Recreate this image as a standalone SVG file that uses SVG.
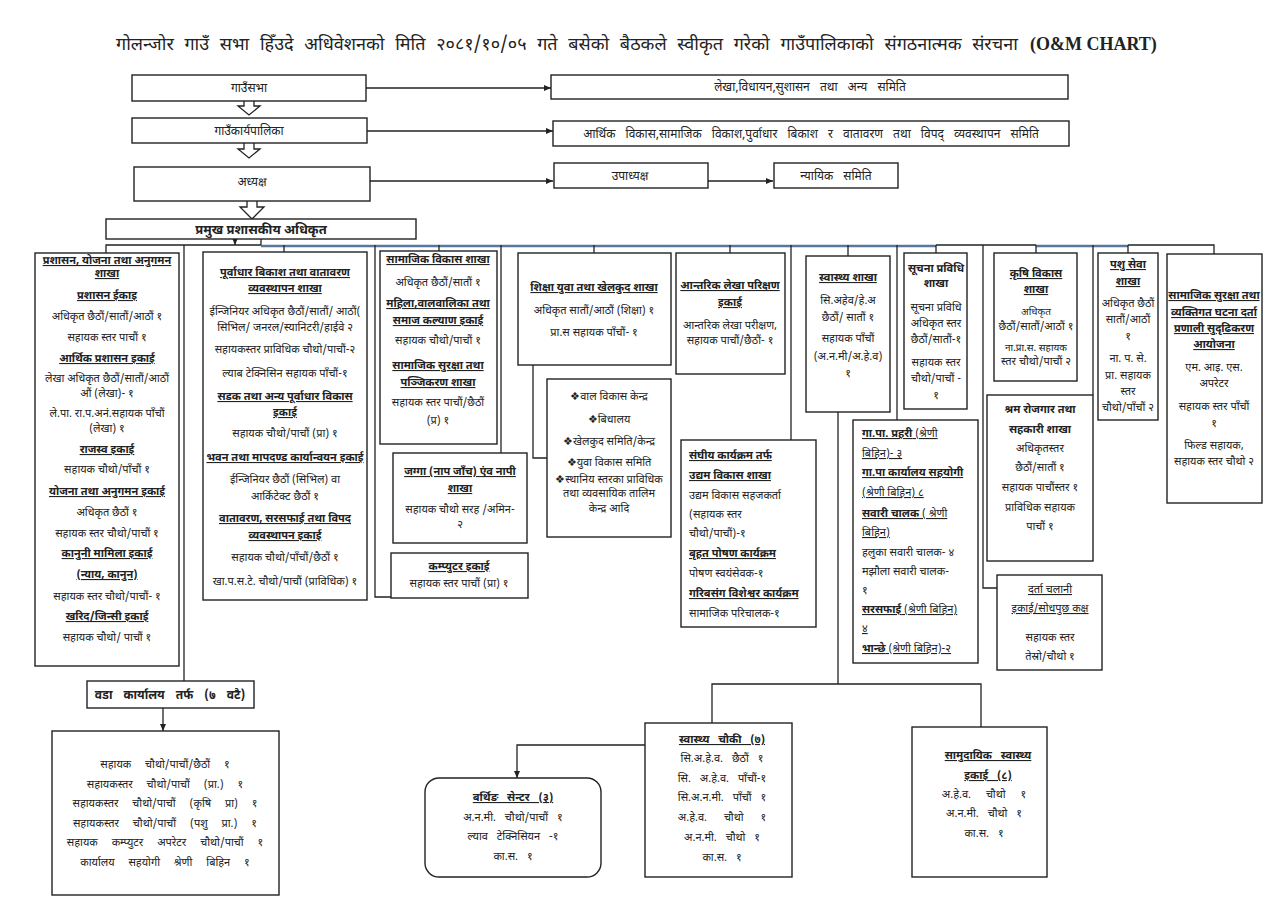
<svg xmlns="http://www.w3.org/2000/svg" width="1286" height="910" viewBox="0 0 1286 910">
<style>
text{font-family:"Noto Sans Devanagari","Noto Serif Devanagari","Noto Sans","Lohit Devanagari",sans-serif;font-size:11px;fill:#222;text-anchor:middle}
.box{fill:#fff;stroke:#222;stroke-width:1.4}
.ln{fill:none;stroke:#222;stroke-width:1.3}
.bl{fill:none;stroke:#56789e;stroke-width:2.5}
.b{font-weight:bold}
.u{text-decoration:underline}
.l{text-anchor:start}
.title{font-size:18px;text-anchor:start}
.top{font-size:12px;word-spacing:7px}
.ws{word-spacing:11px}
.ws6{word-spacing:6px}
</style>
<defs>
<marker id="ah" markerWidth="8" markerHeight="8" refX="7" refY="4" orient="auto" markerUnits="userSpaceOnUse">
<path d="M0,1 L7,4 L0,7 Z" fill="#222"/>
</marker>
</defs>
<rect width="1286" height="910" fill="#fff"/>
<g id="title">
<text class="title" x="116" y="50" style="word-spacing:6px">गोलन्जोर गाउँ सभा हिँउदे अधिवेशनको मिति २०८१/१०/०५ गते बसेको बैठकले स्वीकृत गरेको गाउँपालिकाको संगठनात्मक संरचना</text>
<text x="1030" y="50" style="font-family:'Liberation Serif',serif;font-size:18px;font-weight:bold;text-anchor:start">(O&amp;M CHART)</text>
</g>

<g id="connectors">
<line class="ln" x1="366" y1="88" x2="551" y2="88" marker-end="url(#ah)"/>
<line class="ln" x1="367" y1="131" x2="553" y2="131" marker-end="url(#ah)"/>
<line class="ln" x1="370" y1="181" x2="553" y2="181" marker-end="url(#ah)"/>
<line class="ln" x1="708" y1="181" x2="773" y2="181" marker-end="url(#ah)"/>
<path class="ln" d="M244,101 V106 H238 L249,115 L260,106 H254 V101" fill="#fff"/>
<path class="ln" d="M244,143 V149 H238 L249,158 L260,149 H254 V143" fill="#fff"/>
<path class="ln" d="M247,201 V207 H240 L252,219 L264,207 H257 V201" fill="#fff"/>
<line class="ln" x1="235" y1="239" x2="235" y2="245" marker-end="url(#ah)"/>
<polyline class="ln" points="106,253 106,245 261,245"/>
<line class="ln" x1="261" y1="239" x2="261" y2="245"/>
<line class="bl" x1="261" y1="246" x2="936" y2="246"/>
<line class="ln" x1="936" y1="245" x2="1036" y2="245"/>
<line class="bl" x1="1036" y1="246" x2="1128" y2="246"/>
<polyline class="ln" points="1128,245 1214,245 1214,254"/>
<line class="ln" x1="184" y1="245" x2="184" y2="681"/>
<line class="ln" x1="284" y1="245" x2="284" y2="252"/>
<polyline class="ln" points="375,245 375,597 391,597"/>
<line class="ln" x1="439" y1="245" x2="439" y2="251"/>
<line class="ln" x1="501" y1="245" x2="501" y2="453"/>
<line class="ln" x1="594" y1="245" x2="594" y2="253"/>
<polyline class="ln" points="533,365 533,458 547,458"/>
<line class="ln" x1="730" y1="245" x2="730" y2="253"/>
<line class="ln" x1="791" y1="245" x2="791" y2="440"/>
<line class="ln" x1="848" y1="245" x2="848" y2="256"/>
<line class="ln" x1="897" y1="245" x2="897" y2="420"/>
<line class="ln" x1="936" y1="245" x2="936" y2="253"/>
<polyline class="ln" points="983,245 983,588 997,588"/>
<line class="ln" x1="1036" y1="245" x2="1036" y2="253"/>
<line class="ln" x1="1093" y1="245" x2="1093" y2="395"/>
<line class="ln" x1="1128" y1="245" x2="1128" y2="253"/>
<line class="ln" x1="838" y1="412" x2="838" y2="684"/>
<polyline class="ln" points="712,723 712,684 981,684 981,727"/>
<line class="ln" x1="163" y1="708" x2="163" y2="731" marker-end="url(#ah)"/>
<polyline class="ln" points="645,745 517,745 517,778" marker-end="url(#ah)"/>
</g>

<g id="gaunsabha"><rect class="box" x="132" y="75" width="234" height="26"/><text class="top" x="249" y="92">गाउँसभा</text></g>
<g id="lekha-samiti"><rect class="box" x="551" y="75" width="517" height="24"/><text class="top" x="810" y="91">लेखा,विधायन,सुशासन तथा अन्य समिति</text></g>
<g id="karyapalika"><rect class="box" x="132" y="118" width="235" height="25"/><text class="top" x="249" y="135">गाउँकार्यपालिका</text></g>
<g id="bikas-samiti"><rect class="box" x="553" y="121" width="516" height="25"/><text class="top" x="811" y="138">आर्थिक विकास,सामाजिक विकाश,पुर्वाधार बिकाश र वातावरण तथा विपद् व्यवस्थापन समिति</text></g>
<g id="adhyaksha"><rect class="box" x="134" y="167" width="236" height="34"/><text class="top" x="252" y="186">अध्यक्ष</text></g>
<g id="upadhyaksha"><rect class="box" x="554" y="163" width="154" height="25"/><text class="top" x="630" y="180">उपाध्यक्ष</text></g>
<g id="nyayik"><rect class="box" x="774" y="163" width="124" height="25"/><text class="top" x="836" y="180">न्यायिक समिति</text></g>
<g id="cao"><rect class="box" x="106" y="219" width="310" height="20"/><text class="b" x="261" y="234" style="font-size:13px">प्रमुख प्रशासकीय  अधिकृत</text></g>

<g id="prashasan">
<rect class="box" x="35" y="253" width="144" height="413"/>
<text class="b u" x="107" y="264">प्रशासन, योजना तथा अनुगमन</text>
<text class="b u" x="107" y="277">शाखा</text>
<text class="b u" x="107" y="299">प्रशासन ईकाइ</text>
<text x="107" y="320">अधिकृत छैठौं/सातौं/आठौं १</text>
<text x="107" y="341">सहायक स्तर पाचौं १</text>
<text class="b u" x="107" y="362">आर्थिक प्रशासन इकाई</text>
<text x="107" y="382">लेखा अधिकृत छैठौं/सातौं/आठौं</text>
<text x="107" y="397">औं (लेखा)- १</text>
<text x="107" y="417">ले.पा. रा.प.अनं.सहायक पाँचौं</text>
<text x="107" y="432">(लेखा)  १</text>
<text class="b u" x="107" y="453">राजस्व इकाई</text>
<text x="107" y="473">सहायक चौथो/पाँचौं १</text>
<text class="b u" x="107" y="495">योजना तथा अनुगमन इकाई</text>
<text x="107" y="516">अधिकृत छैठौं १</text>
<text x="107" y="537">सहायक स्तर चौथो/पाचौं १</text>
<text class="b u" x="107" y="557">कानुनी मामिला इकाई</text>
<text class="b u" x="107" y="578">(न्याय, कानुन)</text>
<text x="107" y="600">सहायक स्तर चौथो/पाचौं- १</text>
<text class="b u" x="107" y="620">खरिद/जिन्सी इकाई</text>
<text x="107" y="641">सहायक चौथो/ पाचौं १</text>
</g>

<g id="purbadhar">
<rect class="box" x="203" y="252" width="164" height="348"/>
<text class="b u" x="285" y="276">पूर्वाधार बिकाश तथा वातावरण</text>
<text class="b u" x="285" y="292">व्यवस्थापन शाखा</text>
<text x="285" y="315">ईन्जिनियर अधिकृत छैठौं/सातौं/ आठौं(</text>
<text x="285" y="331">सिभिल/ जनरल/स्यानिटरी/हाईवे २</text>
<text x="285" y="353">सहायकस्तर प्राविधिक चौथो/पाचौं-२</text>
<text x="285" y="377">ल्याब टेक्निसिन सहायक पाँचौं-१</text>
<text class="b u" x="285" y="400">सडक तथा अन्य पूर्वाधार विकास</text>
<text class="b u" x="285" y="416">इकाई</text>
<text x="285" y="437">सहायक चौथो/पाचौं (प्रा) १</text>
<text class="b u" x="285" y="461">भवन तथा मापदण्ड कार्यान्वयन इकाई</text>
<text x="285" y="483">ईन्जिनियर छैठौं (सिभिल) वा</text>
<text x="285" y="500">आर्किटेक्ट छैठौं १</text>
<text class="b u" x="285" y="522">वातावरण, सरसफाई तथा विपद</text>
<text class="b u" x="285" y="539">व्यवस्थापन इकाई</text>
<text x="285" y="561">सहायक चौथो/पाँचौं/छैठौं १</text>
<text x="285" y="585">खा.प.स.टे. चौथो/पाचौं (प्राविधिक) १</text>
</g>

<g id="samajik">
<rect class="box" x="380" y="251" width="117" height="193"/>
<text class="b u" x="438" y="263">सामाजिक विकास शाखा</text>
<text x="438" y="286">अधिकृत छैठौं/सातौं १</text>
<text class="b u" x="438" y="307">महिला,वालवालिका तथा</text>
<text class="b u" x="438" y="324">समाज कल्याण इकाई</text>
<text x="438" y="344">सहायक चौथो/पाचौं १</text>
<text class="b u" x="438" y="369">सामाजिक सुरक्षा तथा</text>
<text class="b u" x="438" y="386">पञ्जिकरण शाखा</text>
<text x="438" y="406">सहायक स्तर पाचौं/छैठौं</text>
<text x="438" y="424">(प्र) १</text>
</g>

<g id="jagga">
<rect class="box" x="393" y="453" width="134" height="90"/>
<text class="b u" x="460" y="475">जग्गा (नाप जाँच) एंव नापी</text>
<text class="b u" x="460" y="492">शाखा</text>
<text x="460" y="513">सहायक चौथो सरह /अमिन-</text>
<text x="460" y="528">२</text>
</g>

<g id="computer">
<rect class="box" x="391" y="553" width="137" height="45"/>
<text class="b u" x="459" y="570">कम्प्युटर इकाई</text>
<text x="459" y="587">सहायक स्तर पाचौं (प्रा) १</text>
</g>

<g id="shiksha">
<rect class="box" x="518" y="253" width="153" height="112"/>
<text class="b u" x="594" y="291">शिक्षा युवा तथा खेलकुद शाखा</text>
<text x="594" y="314">अधिकृत सातौं/आठौं (शिक्षा) १</text>
<text x="594" y="336">प्रा.स सहायक पाँचौं- १</text>
</g>

<g id="shiksha-list">
<rect class="box" x="547" y="379" width="124" height="158"/>
<text x="609" y="400">❖वाल विकास केन्द्र</text>
<text x="609" y="423">❖बिधालय</text>
<text x="609" y="445">❖खेलकुद समिति/केन्द्र</text>
<text x="609" y="466">❖युवा विकास समिति</text>
<text x="609" y="483">❖स्थानिय स्तरका प्राविधिक</text>
<text x="609" y="497">तथा व्यवसायिक तालिम</text>
<text x="609" y="512">केन्द्र आदि</text>
</g>

<g id="antarik">
<rect class="box" x="676" y="253" width="109" height="121"/>
<text class="b u" x="730" y="289">आन्तरिक लेखा परिक्षण</text>
<text class="b u" x="730" y="306">इकाई</text>
<text x="730" y="329">आन्तरिक लेखा परीक्षण,</text>
<text x="730" y="344">सहायक पाचौं/छैठौं- १</text>
</g>

<g id="sanghiya">
<rect class="box" x="681" y="440" width="135" height="187"/>
<text class="b u l" x="689" y="459">संघीय कार्यक्रम तर्फ</text>
<text class="b u l" x="689" y="479">उद्यम विकास शाखा</text>
<text class="l" x="689" y="499">उद्यम विकास सहजकर्ता</text>
<text class="l" x="689" y="518">(सहायक स्तर</text>
<text class="l" x="689" y="537">चौथो/पाचौं)-१</text>
<text class="b u l" x="689" y="557">बृहत पोषण कार्यक्रम</text>
<text class="l" x="689" y="577">पोषण स्वयंसेवक-१</text>
<text class="b u l" x="689" y="597">गरिबसंग विशेश्वर कार्यक्रम</text>
<text class="l" x="689" y="617">सामाजिक परिचालक-१</text>
</g>

<g id="swasthya">
<rect class="box" x="806" y="256" width="84" height="156"/>
<text class="b u" x="848" y="281">स्वास्थ्य शाखा</text>
<text x="848" y="304">सि.अहेव/हे.अ</text>
<text x="848" y="321">छैठौं/ सातौं १</text>
<text x="848" y="342">सहायक पाँचौं</text>
<text x="848" y="360">(अ.न.मी/अ.हे.व)</text>
<text x="848" y="377">१</text>
</g>

<g id="suchana">
<rect class="box" x="904" y="253" width="63" height="156"/>
<text class="b" x="936" y="272">सूचना प्रविधि</text>
<text class="b" x="936" y="287">शाखा</text>
<text x="936" y="311">सूचना प्रविधि</text>
<text x="936" y="327">अधिकृत स्तर</text>
<text x="936" y="343">छैठौं/सातौं-१</text>
<text x="936" y="366">सहायक स्तर</text>
<text x="936" y="382">चौथो/पाचौं -</text>
<text x="936" y="399">१</text>
</g>

<g id="gapa">
<rect class="box" x="853" y="420" width="125" height="243"/>
<text class="u l" x="862" y="437"><tspan class="b">गा.पा. प्रहरी</tspan> (श्रेणी</text>
<text class="u l" x="862" y="457">बिहिन)- ३</text>
<text class="b u l" x="862" y="476">गा.पा कार्यालय सहयोगी</text>
<text class="u l" x="862" y="496">(श्रेणी बिहिन) ८</text>
<text class="u l" x="862" y="517"><tspan class="b">सवारी चालक</tspan> ( श्रेणी</text>
<text class="u l" x="862" y="536">बिहिन)</text>
<text class="l" x="862" y="556">हलुका सवारी चालक- ४</text>
<text class="l" x="862" y="575">मझौला सवारी चालक-</text>
<text class="l" x="862" y="594">१</text>
<text class="u l" x="862" y="613"><tspan class="b">सरसफाई</tspan> (श्रेणी बिहिन)</text>
<text class="u l" x="862" y="632">४</text>
<text class="u l" x="862" y="652"><tspan class="b">भान्छे</tspan> (श्रेणी बिहिन)-२</text>
</g>

<g id="krishi">
<rect class="box" x="994" y="253" width="83" height="128"/>
<text class="b u" x="1036" y="277">कृषि  विकास</text>
<text class="b u" x="1036" y="293">शाखा</text>
<text x="1036" y="315" style="font-size:10px">अधिकृत</text>
<text x="1036" y="330">छैठौं/सातौं/आठौं १</text>
<text x="1036" y="351" style="font-size:10px">ना.प्रा.स. सहायक</text>
<text x="1036" y="365">स्तर चौथो/पाचौं २</text>
</g>

<g id="shram">
<rect class="box" x="987" y="395" width="106" height="166"/>
<text class="b" x="1040" y="413">श्रम रोजगार तथा</text>
<text class="b" x="1040" y="433">सहकारी शाखा</text>
<text x="1040" y="452">अधिकृतस्तर</text>
<text x="1040" y="471">छैठौं/सातौं १</text>
<text x="1040" y="491">सहायक पाचौंस्तर १</text>
<text x="1040" y="511">प्राविधिक सहायक</text>
<text x="1040" y="530">पाचौं १</text>
</g>

<g id="darta">
<rect class="box" x="997" y="575" width="105" height="95"/>
<text class="u" x="1050" y="593">दर्ता चलानी</text>
<text class="u" x="1050" y="612">इकाई/सोधपुछ कक्ष</text>
<text x="1050" y="641">सहायक स्तर</text>
<text x="1050" y="660">तेस्रो/चौथो १</text>
</g>

<g id="pashu">
<rect class="box" x="1098" y="253" width="60" height="167"/>
<text class="b u" x="1128" y="268">पशु सेवा</text>
<text class="b u" x="1128" y="285">शाखा</text>
<text x="1128" y="307">अधिकृत छैठौं</text>
<text x="1128" y="323">सातौं/आठौं</text>
<text x="1128" y="340">१</text>
<text x="1128" y="362">ना. प. से.</text>
<text x="1128" y="379">प्रा. सहायक</text>
<text x="1128" y="395">स्तर</text>
<text x="1128" y="411">चौथो/पाँचौं २</text>
</g>

<g id="samajik-suraksha">
<rect class="box" x="1167" y="254" width="95" height="249"/>
<text class="b u" x="1214" y="299">सामाजिक सुरक्षा तथा</text>
<text class="b u" x="1214" y="316">व्यक्तिगत घटना दर्ता</text>
<text class="b u" x="1214" y="332">प्रणाली सुदृढिकरण</text>
<text class="b u" x="1214" y="348">आयोजना</text>
<text x="1214" y="371">एम. आइ. एस.</text>
<text x="1214" y="387">अपरेटर</text>
<text x="1214" y="410">सहायक स्तर पाँचौं</text>
<text x="1214" y="427">१</text>
<text x="1214" y="449">फिल्ड सहायक,</text>
<text x="1214" y="465">सहायक स्तर चौथो २</text>
</g>

<g id="vada">
<rect class="box" x="87" y="681" width="167" height="27"/>
<text class="b" x="170" y="699" style="word-spacing:8px;font-size:12px">वडा कार्यालय तर्फ (७ वटै)</text>
</g>

<g id="vada-staff">
<rect class="box" x="52" y="731" width="227" height="164"/>
<text class="ws" x="165" y="768">सहायक चौथो/पाचौं/छैठौं १</text>
<text class="ws" x="165" y="788">सहायकस्तर चौथो/पाचौं (प्रा.) १</text>
<text class="ws" x="165" y="807">सहायकस्तर चौथो/पाचौं (कृषि प्रा) १</text>
<text class="ws" x="165" y="827">सहायकस्तर चौथो/पाचौं (पशु प्रा.) १</text>
<text class="ws" x="165" y="846">सहायक कम्प्युटर अपरेटर चौथो/पाचौं १</text>
<text class="ws" x="165" y="866">कार्यालय सहयोगी श्रेणी बिहिन १</text>
</g>

<g id="birthing">
<rect class="box" x="425" y="778" width="176" height="99" rx="14"/>
<text class="b u ws6" x="513" y="801">बर्थिङ सेन्टर (३)</text>
<text class="ws6" x="513" y="821">अ.न.मी. चौथो/पाचौं १</text>
<text class="ws6" x="513" y="840">ल्याव टेक्निसियन -१</text>
<text class="ws6" x="513" y="860">का.स. १</text>
</g>

<g id="swasthya-chauki">
<rect class="box" x="645" y="723" width="147" height="154"/>
<text class="b u ws6" x="722" y="743">स्वास्थ्य चौकी (७)</text>
<text class="ws6" x="722" y="762">सि.अ.हे.व. छैठौं १</text>
<text class="ws6" x="722" y="782">सि. अ.हे.व. पाँचौं-१</text>
<text class="ws6" x="722" y="801">सि.अ.न.मी. पाँचौं १</text>
<text class="ws6" x="722" y="821" style="word-spacing:14px">अ.हे.व. चौथो १</text>
<text class="ws6" x="722" y="841">अ.न.मी. चौथो १</text>
<text class="ws6" x="722" y="861">का.स. १</text>
</g>

<g id="samudayik">
<rect class="box" x="912" y="727" width="135" height="150"/>
<text class="b u ws6" x="988" y="759">सामुदायिक स्वास्थ्य</text>
<text class="b u ws6" x="988" y="779">इकाई (८)</text>
<text class="ws6" x="984" y="798" style="word-spacing:12px">अ.हे.व. चौथो १</text>
<text class="ws6" x="984" y="817">अ.न.मी. चौथो १</text>
<text class="ws6" x="984" y="837">का.स. १</text>
</g>
</svg>
